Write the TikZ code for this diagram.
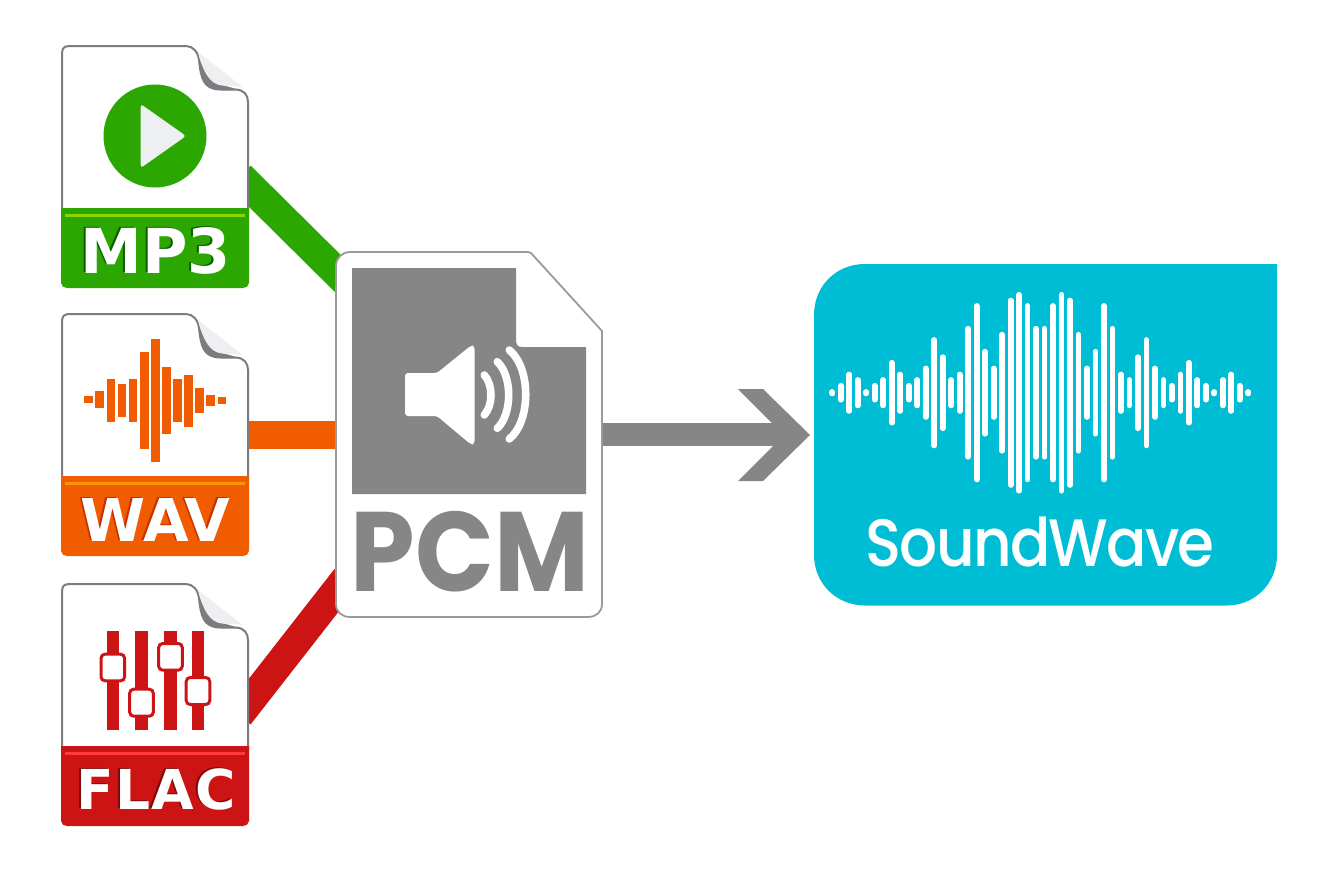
\documentclass[tikz,border=0pt]{standalone}
\usepackage{fontspec}
\newfontfamily\labelfont{DejaVu Sans}
\newfontfamily\logofont{Poppins}
\newfontfamily\swfont{Poppins Medium}[LetterSpace=-3]
\definecolor{mpgreen}{HTML}{2CA600}
\definecolor{mpstrip}{HTML}{8CD600}
\definecolor{mpshade}{HTML}{0B5D00}
\definecolor{wavorange}{HTML}{F25C00}
\definecolor{wavstrip}{HTML}{FF9500}
\definecolor{wavshade}{HTML}{C43000}
\definecolor{flacred}{HTML}{CD1414}
\definecolor{flacstrip}{HTML}{FF3B3B}
\definecolor{flacshade}{HTML}{7F0A0A}
\definecolor{pcmgray}{HTML}{868686}
\definecolor{pcmedge}{HTML}{9A9A9A}
\definecolor{foldgray}{HTML}{7B7B80}
\definecolor{curlgray}{HTML}{EEEFF1}
\definecolor{swblue}{HTML}{00BDD6}
\tikzset{
    filebox/.style={minimum width=186pt, minimum height=242pt, inner sep=0pt},
    link/.style={line width=#1},
    wavebar/.style={white, line width=5.8pt, line cap=round},
    speakerwave/.style={white, line width=7.6pt, line cap=round},
    knob/.style={draw=flacred, fill=white, line width=3pt, rounded corners=4pt},
}
\begin{document}
\begin{tikzpicture}[x=1pt, y=-1pt]
    \useasboundingbox (0,0) rectangle (1339,871);

    % Verbinder
    \coordinate (mp3out) at (240,176.5);
    \coordinate (mp3in) at (350,285.5);
    \coordinate (flacout) at (239,715.3);
    \coordinate (flacin) at (346,578.2);
    \node[filebox] (wavfile) at (155,434.5) {};
    \node[minimum width=266pt, minimum height=365pt, inner sep=0pt] (pcmfile) at (469,434.5) {};
    \node[minimum width=463pt, minimum height=341pt, inner sep=0pt] (soundwave) at (1045.5,434.5) {};
    \draw[mpgreen, link=30.5pt] (mp3out) -- (mp3in);
    \draw[wavorange, link=28pt] (wavfile.east) -- (pcmfile.west);
    \draw[flacred, link=29.5pt] (flacout) -- (flacin);
    \draw[pcmgray, link=23pt] (pcmfile.east) -- (790,434.5);
    \fill[pcmgray] (738,389) -- (763,389) -- (810,435) -- (763,481) -- (738,481) -- (773,446) -- (773,424) -- cycle;

    % Dateien links
    \foreach \name/\dy/\bandcol/\stripcol/\shadecol/\lab/\fsize/\lx/\base in {
        mp3file/0/mpgreen/mpstrip/mpshade/MP3/62/156/273,
        wavicon/268/wavorange/wavstrip/wavshade/WAV/59/155.5/273,
        flacfile/538/flacred/flacstrip/flacshade/{\addfontfeature{LetterSpace=2.5}FLAC}/55/156/271}{
    \begin{scope}[shift={(0,\dy)}]
        \draw[fill=white, draw=foldgray, line width=2pt] (62,212) -- (62,54) .. controls (62,48) and (64,46) .. (70,46) -- (186,46)
            .. controls (193,46) and (198,52) .. (199,60) .. controls (201,78) and (203,89) .. (220,89.5) -- (236,89.5)
            .. controls (244,90) and (248,95) .. (248,102) -- (248,212) -- cycle;
        \fill[foldgray] (198,56) .. controls (201,78) and (204,90) .. (222,90) -- (240,90) -- (222,85) .. controls (209,83) and (206,72) .. (198,56);
        \fill[curlgray] (198,52) -- (243,87) -- (222,85.5) .. controls (210,84.5) and (203,72) .. (198,52);
        \fill[\bandcol] (62,208) -- (249,208) -- (249,283) .. controls (249,286) and (246,288) .. (243,288) -- (67,288)
            .. controls (64,288) and (61,286) .. (61,283) -- (61,208) -- cycle;
        \draw[\stripcol, line width=3pt] (65,215) -- (245,215);
        \node[anchor=base, inner sep=0pt, text=\shadecol, font=\fontsize{\fsize}{\fsize}\selectfont\labelfont\bfseries] (\name shade) at (\lx-2,\base-1) {\lab};
        \node[anchor=base, inner sep=0pt, text=white, font=\fontsize{\fsize}{\fsize}\selectfont\labelfont\bfseries] (\name label) at (\lx,\base) {\lab};
    \end{scope}
    }

    % MP3
    \fill[mpgreen] (155,136) circle (51.5);
    \fill[curlgray, rounded corners=3pt] (140.7,104) -- (186,136) -- (140.7,168) -- cycle;

    % WAV
    \foreach \i/\ytop/\ybot in {0/396/403, 1/391/408.3, 2/379/422.3, 3/384/417.3, 4/379/422.3, 5/352.3/448.7, 6/339.3/462.3,
        7/367/434.3, 8/379/422.3, 9/375/427.3, 10/388/413.3, 11/395/406, 12/397.3/403.7}
        \fill[wavorange] ({84.3+11.1*\i},\ytop) rectangle ({93+11.1*\i},\ybot);

    % FLAC
    \foreach \xa/\ya/\yb in {112.8/652.7/682.3, 141.5/687.7/717.7, 170.5/642/671.7, 198/676/706}{
        \fill[flacred] (\xa-6.2,631.3) rectangle (\xa+6.2,730);
        \draw[knob] (\xa-11.8,\ya+1.5) rectangle (\xa+11.8,\yb-1.5);
    }

    % PCM
    \draw[fill=white, draw=pcmedge, line width=1.8pt] (350,252) -- (528,252) -- (531,253) -- (602,331) -- (602,604)
        .. controls (602,612) and (596,617) .. (588,617) -- (350,617) .. controls (342,617) and (336,612) .. (336,604)
        -- (336,266) .. controls (336,258) and (342,252) .. (350,252) -- cycle;
    \fill[pcmgray] (352,268) -- (516,268) -- (516,340) .. controls (516,345) and (518,347) .. (522,347) -- (586,347) -- (586,494) -- (352,494) -- cycle;
    \fill[white, rounded corners=3pt] (405,373) -- (437,373) -- (471,345.5) -- (474.5,346) -- (474.5,444) -- (471,444.5) -- (437,416) -- (405,416) -- cycle;
    \draw[speakerwave] (484.3,375) .. controls (493.2,385) and (493.2,405) .. (484.3,415);
    \draw[speakerwave] (497.3,361.7) .. controls (512.5,376) and (512.5,414) .. (497.3,428.3);
    \draw[speakerwave] (509.3,350) .. controls (531.2,368) and (531.2,421) .. (509.3,439);
    \node[anchor=base, inner sep=0pt, xscale=0.915, text=pcmgray, font=\fontsize{113}{113}\selectfont\logofont\bfseries] (pcmlabel) at (470,591) {PCM};

    % SoundWave
    \fill[swblue] (865,264) -- (1277,264) -- (1277,555) .. controls (1277,583) and (1255,605.5) .. (1227,605.5) -- (865,605.5)
        .. controls (836,605.5) and (814,583) .. (814,555) -- (814,315) .. controls (814,286) and (836,264) .. (865,264) -- cycle;
    \foreach \barh [count=\i from 0] in {3.5,9.7,21,15.5,3.5,9.7,15.5,32.7,21,9.7,15.5,27,55.5,38.3,15.5,21,66.8,89.5,43.8,27,60.8,95,100.7,89.5,66.8,66.8,
        89.5,100.7,95,60.8,27,43.8,89.5,66.8,21,15.5,38.3,55.5,27,15.5,9.7,21,32.7,15.5,9.7,3.5,15.5,21,9.7,3.5}
        \draw[wavebar] ({832.3+8.49*\i},{392.7-(\barh-2.8)}) -- ({832.3+8.49*\i},{392.7+(\barh-2.8)});
    \node[anchor=base, inner sep=0pt, xscale=0.89, text=white, font=\fontsize{67}{67}\selectfont\swfont] (swlabel) at (1040,566.7) {SoundWave};
\end{tikzpicture}
\end{document}
